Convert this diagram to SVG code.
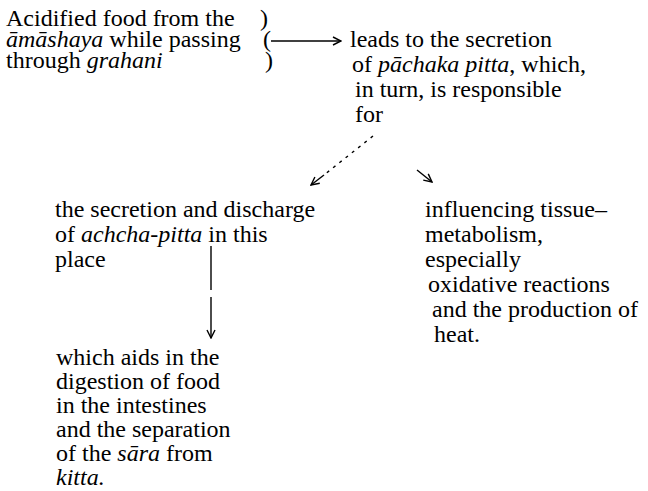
<svg xmlns="http://www.w3.org/2000/svg" width="648" height="491" viewBox="0 0 648 491">
<style>
text{font-family:"Liberation Serif","Times New Roman",serif;font-size:24px;fill:#000}
.i{font-style:italic}
.c{stroke:#000;stroke-width:1.4;fill:none}
.d{stroke-dasharray:3 5}
</style>
<defs>
<marker id="ah" viewBox="0 0 10 10" refX="9" refY="5" markerWidth="10" markerHeight="10" markerUnits="userSpaceOnUse" orient="auto">
<path d="M1,1 L9,5 L1,9" fill="none" stroke="#000" stroke-width="1.4"/>
</marker>
</defs>
<rect width="648" height="491" fill="#fff"/>
<g id="source">
<text x="6" y="26">Acidified food from the</text>
<text x="6" y="47"><tspan class="i">āmāshaya</tspan> while passing</text>
<text x="6" y="68">through <tspan class="i">grahani</tspan></text>
<text x="260" y="26">)</text>
<text x="263" y="47">(</text>
<text x="265" y="68">)</text>
</g>
<g id="pachaka">
<text x="350" y="47">leads to the secretion</text>
<text x="352" y="72">of <tspan class="i">pāchaka pitta</tspan>, which,</text>
<text x="355" y="97">in turn, is responsible</text>
<text x="355" y="122">for</text>
</g>
<g id="achcha">
<text x="55" y="217">the secretion and discharge</text>
<text x="55" y="242">of <tspan class="i">achcha-pitta</tspan> in this</text>
<text x="55" y="267">place</text>
</g>
<g id="metabolism">
<text x="425" y="217">influencing tissue–</text>
<text x="425" y="242">metabolism,</text>
<text x="425" y="267">especially</text>
<text x="428" y="292">oxidative reactions</text>
<text x="432" y="317">and the production of</text>
<text x="434" y="342">heat.</text>
</g>
<g id="digestion">
<text x="56" y="365">which aids in the</text>
<text x="56" y="389">digestion of food</text>
<text x="56" y="413">in the intestines</text>
<text x="56" y="437">and the separation</text>
<text x="56" y="461">of the <tspan class="i">sāra</tspan> from</text>
<text x="56" y="485" class="i">kitta.</text>
</g>
<g id="connectors">
<line class="c" x1="271" y1="41" x2="341" y2="41" marker-end="url(#ah)"/>
<line class="c d" x1="373" y1="136" x2="324" y2="175"/>
<line class="c" x1="324" y1="175" x2="311" y2="185" marker-end="url(#ah)"/>
<line class="c" x1="417" y1="170" x2="432" y2="182" marker-end="url(#ah)"/>
<line class="c" x1="211" y1="246" x2="211" y2="290"/>
<line class="c" x1="211" y1="297" x2="211" y2="338" marker-end="url(#ah)"/>
</g>
</svg>
